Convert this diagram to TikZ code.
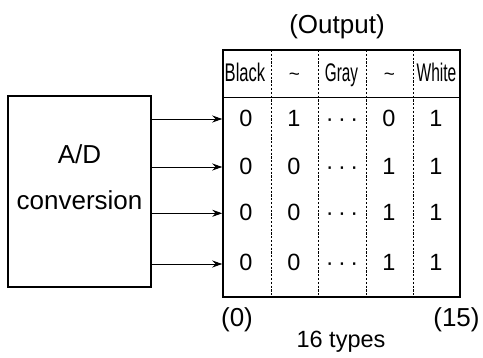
\documentclass[tikz,border=0pt]{standalone}
\usepackage{fontspec}
\setmainfont{Liberation Sans}
\usetikzlibrary{arrows.meta}
\begin{document}
\begin{tikzpicture}[x=1pt,y=-1pt,
  lbl/.style={inner sep=0pt, anchor=base, font=\fontsize{26}{30}\selectfont},
  bit/.style={inner sep=0pt, anchor=base, font=\fontsize{23.5}{28}\selectfont},
  hdr/.style={inner sep=0pt, anchor=base, font=\fontsize{25.5}{28}\selectfont},
  wave/.style={inner sep=0pt, font=\fontsize{19}{22}\selectfont},
  frame/.style={draw, line width=1.5pt, inner sep=0pt},
  divider/.style={line width=0.7pt, dash pattern=on 2.2pt off 1.6pt},
  feed/.style={line width=0.9pt, -{Stealth[length=10pt,width=7pt]}}]
\useasboundingbox (0,0) rectangle (483,358);

% converter block
\node[frame, minimum width=143pt, minimum height=191pt] (ad) at (79.5,191.5) {};
\node[lbl] (adl1) at (79.5,163.5) {A/D};
\node[lbl] (adl2) at (79.5,210) {conversion};

% output table
\node[lbl] (out) at (337,34) {(Output)};
\node[frame, minimum width=237pt, minimum height=247pt] (tbl) at (341.5,173.5) {};
\coordinate (hsep) at (0,97);
\draw[line width=0.8pt] (tbl.west |- hsep) -- (tbl.east |- hsep);
\foreach \x in {271,318,366,413}
  \draw[divider] (\x,50) -- (\x,297);

% header row
\node[hdr] (h1) at (245,81.5) {\scalebox{0.65}[1]{Black}};
\node[wave] (h2) at (294.5,77) {\textasciitilde};
\node[hdr] (h3) at (341.5,81.5) {\scalebox{0.6}[1]{Gray}};
\node[wave] (h4) at (389.5,77) {\textasciitilde};
\node[hdr] (h5) at (436.5,81.5) {\scalebox{0.61}[1]{White}};

% bit rows: baseline / arrow level / bits
\foreach \r/\yb/\ya/\a/\b/\c/\d in {1/126.7/119/0/1/0/1, 2/174.5/167/0/0/1/1,
                                    3/220.7/213.3/0/0/1/1, 4/270.5/264/0/0/1/1}{
  \coordinate (lvl\r) at (0,\ya);
  \node[bit] (r\r a) at (246,\yb) {\a};
  \node[bit] (r\r b) at (294,\yb) {\b};
  \node[bit] (r\r c) at (342,\yb) {·\hspace{4.5pt}·\hspace{4.5pt}·};
  \node[bit] (r\r d) at (389,\yb) {\c};
  \node[bit] (r\r e) at (436,\yb) {\d};
  \draw[feed] (ad.east |- lvl\r) -- (tbl.west |- lvl\r);
}

% range labels
\node[lbl] (lo) at (237,326.7) {(0)};
\node[lbl] (hi) at (456.5,326.7) {(15)};
\node[bit] (cnt) at (341,348) {16 types};
\end{tikzpicture}
\end{document}
